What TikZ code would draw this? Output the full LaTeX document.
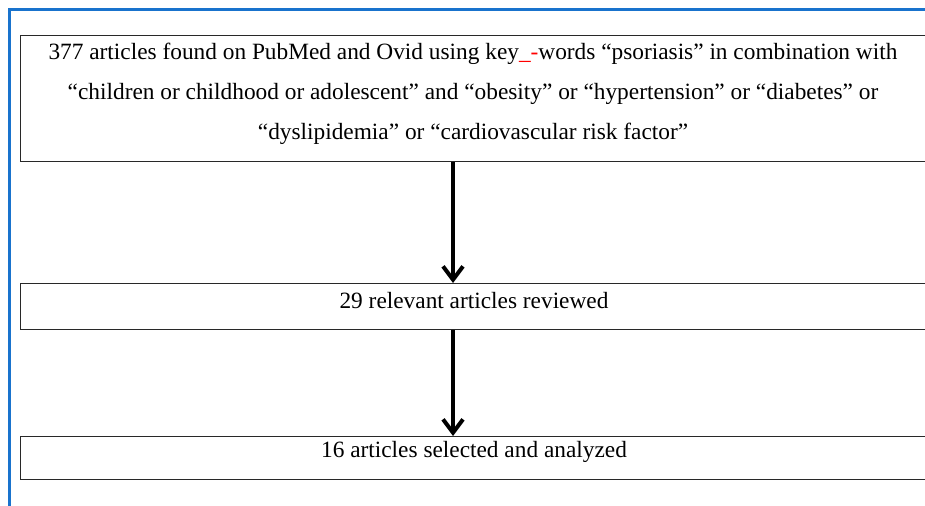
\documentclass[tikz,border=0pt]{standalone}
\usepackage{fontspec}
\setmainfont{Liberation Serif}
\usetikzlibrary{arrows.meta,calc}
\definecolor{frameblue}{RGB}{25,115,205}
\definecolor{boxline}{RGB}{40,40,40}
\begin{document}
\begin{tikzpicture}[x=0.75pt,y=-0.75pt,
  stepbox/.style={draw=boxline,line width=1.1pt,minimum width=930*0.75pt,inner sep=0pt,anchor=north west},
  txt/.style={font=\fontsize{17.5}{30}\selectfont,align=center,inner sep=0pt},
  arr/.style={line width=3pt,-{Straight Barb[length=10pt,width=15pt,line width=3pt]}}]
\useasboundingbox (0,0) rectangle (925,506);
\clip (0,0) rectangle (925,506);
\fill[white] (0,0) rectangle (925,506);
% frame
\draw[frameblue,line width=2.4pt] (9.5,506) -- (9.5,9.5) -- (930,9.5);
% boxes
\node[stepbox,minimum height=126*0.75pt] (b1) at (20,35) {};
\node[stepbox,minimum height=46*0.75pt] (b2) at (20,283) {};
\node[stepbox,minimum height=43*0.75pt] (b3) at (20,436) {};
% texts
\node[txt] (t1) at (473,94) {377 articles found on PubMed and Ovid using key{\color{red}\_-}words “psoriasis” in combination with\\
“children or childhood or adolescent” and “obesity” or “hypertension” or “diabetes” or\\
“dyslipidemia” or “cardiovascular risk factor”};
\node[txt] (t2) at (474,301) {29 relevant articles reviewed};
\node[txt] (t3) at (474,452) {16 articles selected and analyzed};
% arrows
\coordinate (ax) at (453,0);
\draw[arr] (b1.south -| ax) -- (b2.north -| ax);
\draw[arr] (b2.south -| ax) -- (b3.north -| ax);
\end{tikzpicture}
\end{document}
